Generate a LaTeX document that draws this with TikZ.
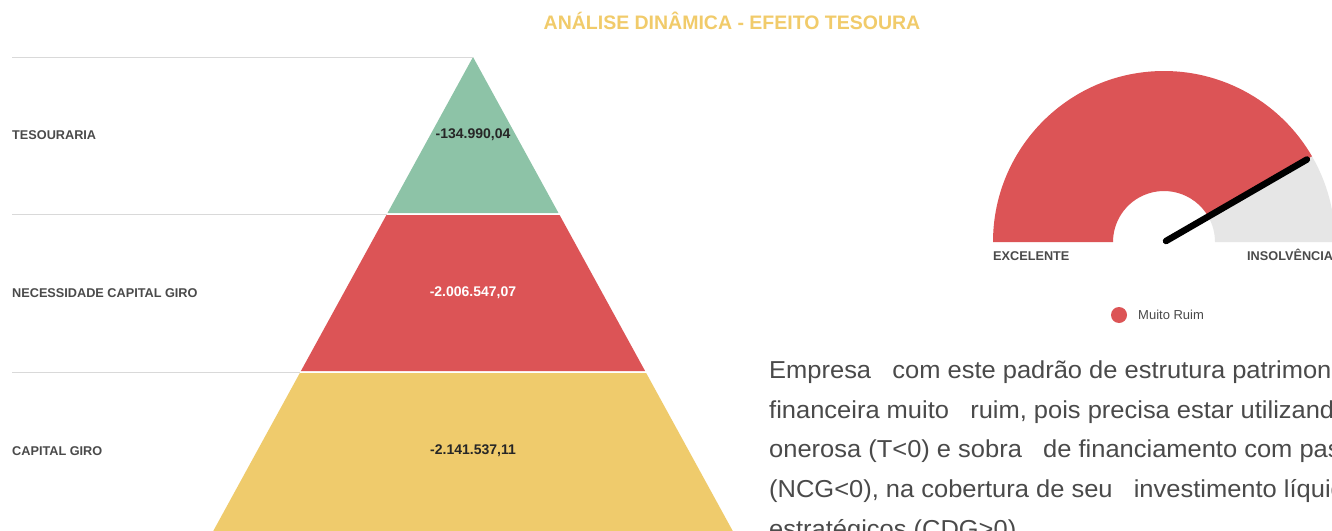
\documentclass[tikz,border=0pt]{standalone}
\usepackage{fontspec}
\setmainfont{Liberation Sans}
\newfontfamily\corpofont[FakeStretch=1.04]{Liberation Sans}
\usetikzlibrary{positioning}
\definecolor{verde}{HTML}{8DC3A7}
\definecolor{vermelho}{HTML}{DC5456}
\definecolor{amarelo}{HTML}{EFCB6C}
\definecolor{cinza}{HTML}{E6E6E6}
\definecolor{titulo}{HTML}{F1CB6A}
\definecolor{texto}{HTML}{4A4A4A}
\definecolor{linha}{HTML}{D9D9D9}
\begin{document}
\begin{tikzpicture}[x=1pt,y=-1pt,line join=round,
    rotulo/.style={anchor=west,inner sep=0pt,text=texto,font=\fontsize{12.7}{14}\selectfont\bfseries},
    valor/.style={inner sep=0pt,font=\fontsize{14}{16}\selectfont\bfseries},
    corpo/.style={anchor=base west,inner sep=0pt,text=texto,font=\corpofont\fontsize{24.5}{28}\selectfont},
    separador/.style={draw=linha,line width=1pt}]
    \def\cx{473} % eixo da piramide
    \def\inc{0.548} % inclinacao dos lados
    \useasboundingbox (0,0) rectangle (1332,530);
    \fill[white] (0,0) rectangle (1332,530);
    \clip (0,0) rectangle (1332,530);
    \node[font=\fontsize{19.5}{22}\selectfont\bfseries,text=titulo] (tit) at (732,21) {ANÁLISE DINÂMICA - EFEITO TESOURA};
    % piramide
    \coordinate (topo) at (\cx,57);
    \fill[verde] (topo) -- ({\cx+\inc*156},213) -- ({\cx-\inc*156},213) -- cycle;
    \fill[vermelho] ({\cx-\inc*158},215) -- ({\cx+\inc*158},215) -- ({\cx+\inc*314},371) -- ({\cx-\inc*314},371) -- cycle;
    \fill[amarelo] ({\cx-\inc*316},373) -- ({\cx+\inc*316},373) -- ({\cx+\inc*490},547) -- ({\cx-\inc*490},547) -- cycle;
    \coordinate (s1) at (12,57);
    \coordinate (s2) at (12,214);  \coordinate (e2) at ({\cx-\inc*157},214);
    \coordinate (s3) at (12,372);  \coordinate (e3) at ({\cx-\inc*315},372);
    \draw[separador] (s1) -- (topo) (s2) -- (e2) (s3) -- (e3);
    \node[rotulo] (tes) at (12,135) {TESOURARIA};
    \node[rotulo] (ncg) at (12,293) {NECESSIDADE CAPITAL GIRO};
    \node[rotulo] (cdg) at (12,451) {CAPITAL GIRO};
    \node[valor,text=black!85] (vtes) at (\cx,135) {-134.990,04};
    \node[valor,text=white] (vncg) at (\cx,293) {-2.006.547,07};
    \node[valor,text=black!85] (vcdg) at (\cx,451) {-2.141.537,11};
    % velocimetro
    \begin{scope}[shift={(1164,242)}]
        \fill[vermelho] (180:171) arc[start angle=180,end angle=330,radius=171] -- (330:51) arc[start angle=330,end angle=180,radius=51] -- cycle;
        \fill[cinza] (330:171) arc[start angle=330,end angle=360,radius=171] -- (0:51) arc[start angle=360,end angle=330,radius=51] -- cycle;
        \coordinate (centro) at (2,-1);
        \coordinate (ponta) at (330:165);
        \draw[line width=6.5pt,line cap=round] (centro) -- (ponta);
    \end{scope}
    \node[rotulo,anchor=base west] (exc) at (993,260) {EXCELENTE};
    \node[rotulo,anchor=base west] (ins) at (1247,260) {INSOLVÊNCIA};
    \fill[vermelho] (1119,315) circle[radius=8];
    \node[anchor=west,inner sep=0pt,text=texto,font=\fontsize{13}{15}\selectfont] (leg) at (1138,315) {Muito Ruim};
    % texto
    \foreach \txt [count=\i from 0] in {{Empresa\ \ \ com este padrão de estrutura patrimonial},
        {financeira muito\ \ \ ruim, pois precisa estar utilizando},
        {onerosa (T<0) e sobra\ \ \ de financiamento com passivos},
        {(NCG<0), na cobertura de seu\ \ \ investimento líquido},
        {estratégicos (CDG>0)}}
        \node[corpo] (l\i) at (769,{378.7+39.6*\i}) {\txt};
\end{tikzpicture}
\end{document}
